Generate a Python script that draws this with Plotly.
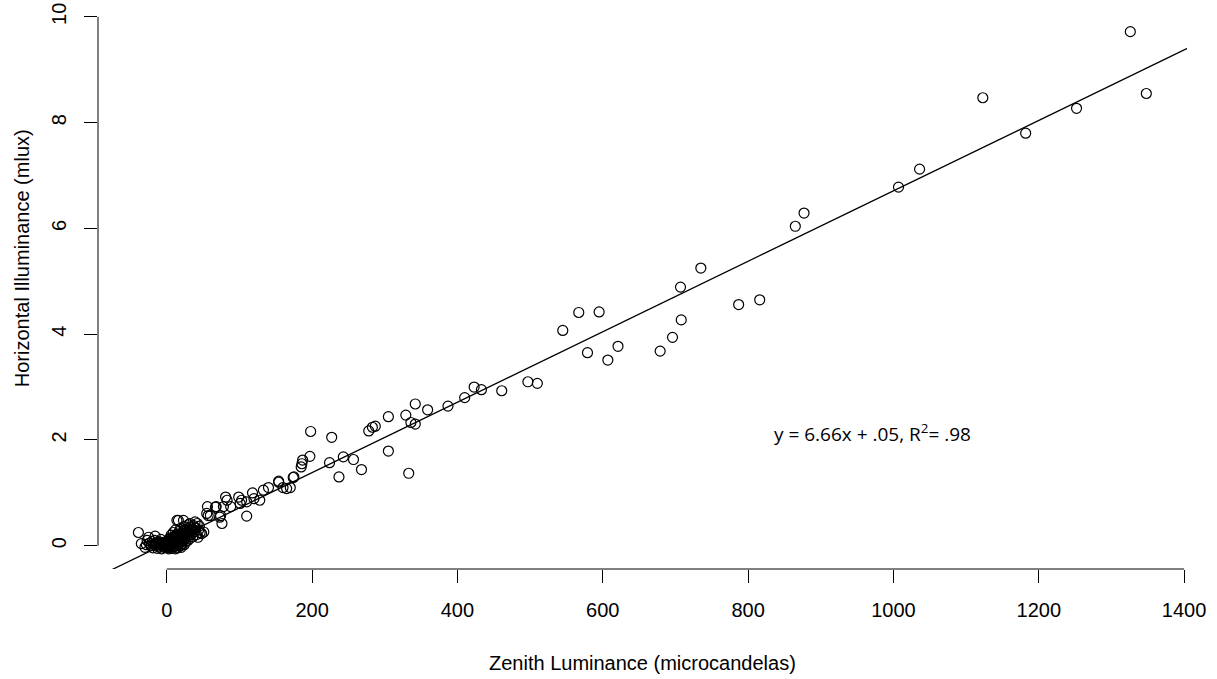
import plotly.graph_objects as go

# ---- data ----
zenith_upper = [1326, 1348, 1252, 1182, 1123, 1036, 1007, 877, 865, 816, 787, 735, 707, 708,
                696, 679, 621, 607, 595, 579, 567, 545, 510, 497, 461, 433, 423, 410, 387,
                359, 342, 342, 336, 333, 329, 305, 305, 287, 283, 278, 268, 257, 243, 237,
                227, 224, 198, 197, 187, 186, 185, 175, 174, 170, 165, 160, 154, 154, 140,
                133, 128, 120, 118, 110, 110, 103, 101, 99, 88, 83, 81, 78, 76, 74, 73, 68,
                67, 60, 57, 56, 55, 51, 48, 43, 39, 32, 23, 16, 14, -39]
illum_upper = [9.72, 8.55, 8.27, 7.80, 8.47, 7.12, 6.78, 6.29, 6.04, 4.65, 4.56, 5.25, 4.89, 4.27,
               3.94, 3.68, 3.77, 3.51, 4.42, 3.65, 4.41, 4.07, 3.07, 3.10, 2.93, 2.95, 3.00, 2.80, 2.64,
               2.57, 2.68, 2.30, 2.33, 1.37, 2.47, 2.44, 1.79, 2.26, 2.24, 2.17, 1.44, 1.63, 1.68, 1.30,
               2.05, 1.57, 2.16, 1.69, 1.62, 1.55, 1.49, 1.30, 1.29, 1.10, 1.08, 1.10, 1.22, 1.20, 1.10,
               1.05, 0.86, 0.89, 1.00, 0.83, 0.56, 0.86, 0.80, 0.92, 0.74, 0.86, 0.92, 0.74, 0.42, 0.57, 0.54, 0.74,
               0.73, 0.57, 0.57, 0.74, 0.61, 0.26, 0.23, 0.16, 0.45, 0.42, 0.48, 0.48, 0.48, 0.25]

zenith_cluster = [-35, -30, -28, -25, -24, -22, -20, -19, -18, -17, -15, -14, -13, -12, -11, -10,
                  -9, -8, -7, -6, -5, -5, -4, -3, -2, -2, -1, 0, 0, 1, 1, 2, 2, 3, 3, 4, 4, 5, 5,
                  6, 6, 7, 7, 8, 8, 9, 9, 10, 10, 11, 11, 12, 12, 13, 13, 14, 14, 15, 15, 16, 16,
                  17, 17, 18, 18, 19, 19, 20, 20, 21, 21, 22, 23, 23, 24, 24, 25, 25, 26, 27, 27,
                  28, 29, 30, 30, 31, 32, 33, 34, 35, 36, 37, 38, 40, 41, 42, 44, 45, 46, -27, -16,
                  -8, 3, 12, 20, -21, -16, -12, -9, -6, -3, 0, 2, 4, 6, 8, 10, 12, 14, 16, 18,
                  20, 22, 24, 26, 28, 30, 33, 36, 39, 5, 9, 15, 19, 25]
illum_cluster = [0.04, -0.03, 0.02, 0.16, 0.05, 0.00, 0.08, -0.04, 0.03, 0.10, 0.00, 0.05, -0.05, 0.02, 0.08, -0.02,
                 0.04, 0.01, -0.06, 0.06, 0.00, 0.03, -0.03, 0.02, 0.05, -0.01, 0.00, 0.03, -0.04, 0.01, 0.06, -0.02, 0.09, 0.02, 0.12, -0.03, 0.05, 0.00, 0.15,
                 0.04, 0.20, -0.05, 0.09, 0.02, 0.13, 0.06, 0.25, -0.02, 0.10, 0.03, 0.18, 0.07, 0.30, 0.00, 0.12, 0.05, 0.22, -0.04, 0.09, 0.15, 0.02,
                 0.27, 0.06, 0.11, 0.19, 0.00, 0.33, 0.08, 0.14, 0.23, 0.04, 0.17, 0.10, 0.29, 0.02, 0.36, 0.13, 0.21, 0.07, 0.25, 0.15,
                 0.32, 0.10, 0.19, 0.40, 0.27, 0.14, 0.35, 0.22, 0.30, 0.17, 0.38, 0.26, 0.33, 0.21, 0.42, 0.30, 0.37, 0.25, 0.10, 0.18,
                 0.12, -0.06, -0.06, -0.03, 0.01, 0.04, 0.06, 0.02, 0.03, 0.07, 0.08, 0.04, 0.10, 0.08, 0.07, 0.14, 0.11, 0.16, 0.10, 0.21,
                 0.18, 0.24, 0.19, 0.27, 0.23, 0.28, 0.31, 0.29, 0.34, 0.07, 0.16, 0.20, 0.12, 0.30]

fit_slope = 0.00666
fit_intercept = 0.05
fit_x = [-100, 1410]

x_ticks = [0, 200, 400, 600, 800, 1000, 1200, 1400]
y_ticks = [0, 2, 4, 6, 8, 10]
x_range = [-94.6, 1404]
y_range = [-0.44, 10.11]

FONT = "Liberation Sans, Arial, Helvetica, sans-serif"

fig = go.Figure()
fig.add_trace(go.Scatter(
    x=zenith_upper + zenith_cluster, y=illum_upper + illum_cluster,
    mode="markers",
    marker=dict(symbol="circle-open", size=10, color="black", line=dict(width=1.2, color="black")),
    showlegend=False, hoverinfo="skip"))
fig.add_trace(go.Scatter(
    x=fit_x, y=[fit_slope * v + fit_intercept for v in fit_x],
    mode="lines", line=dict(color="black", width=1.3),
    showlegend=False, hoverinfo="skip"))

fig.update_layout(
    width=1217, height=679,
    margin=dict(l=98, r=30, t=11, b=110, autoexpand=False),
    paper_bgcolor="white", plot_bgcolor="white",
    font=dict(family=FONT, size=20, color="black"),
    xaxis=dict(range=x_range, tickmode="array", tickvals=x_ticks, ticktext=[str(v) for v in x_ticks],
               ticks="outside", ticklen=13, tickwidth=1, tickcolor="black", automargin=False,
               showgrid=False, zeroline=False, showline=False, ticklabelstandoff=10,
               tickfont=dict(family=FONT, size=20, color="black")),
    yaxis=dict(range=y_range, tickmode="array", tickvals=y_ticks, ticktext=[str(v) for v in y_ticks],
               ticks="outside", ticklen=13, tickwidth=1, tickcolor="black", tickangle=-90, automargin=False,
               showgrid=False, zeroline=False, showline=False, ticklabelstandoff=10,
               tickfont=dict(family=FONT, size=20, color="black")),
    shapes=[
        dict(type="line", xref="x", yref="paper", x0=x_ticks[0], x1=x_ticks[-1], y0=0, y1=0,
             line=dict(color="black", width=1)),
        dict(type="line", xref="paper", yref="y", x0=0, x1=0, y0=y_ticks[0], y1=y_ticks[-1],
             line=dict(color="black", width=1)),
    ],
    annotations=[
        dict(text="Zenith Luminance (microcandelas)", xref="paper", yref="paper", x=0.5, y=0,
             yanchor="middle", xanchor="center", yshift=-94, showarrow=False,
             font=dict(family=FONT, size=20, color="black")),
        dict(text="Horizontal Illuminance (mlux)", xref="paper", yref="paper", x=0, y=0.557,
             xanchor="center", yanchor="middle", xshift=-76, textangle=-90, showarrow=False,
             font=dict(family=FONT, size=20, color="black")),
        dict(text="y = 6.66x + .05, R<sup>2</sup>= .98", xref="x", yref="y", x=833, y=2.13,
             xanchor="left", yanchor="middle", showarrow=False,
             font=dict(family="Open Sans, sans-serif", size=19, color="black")),
    ],
)

fig.write_html("out.html", config={"displayModeBar": False},
               post_script="document.body.style.margin='0';document.body.style.overflow='hidden';")
